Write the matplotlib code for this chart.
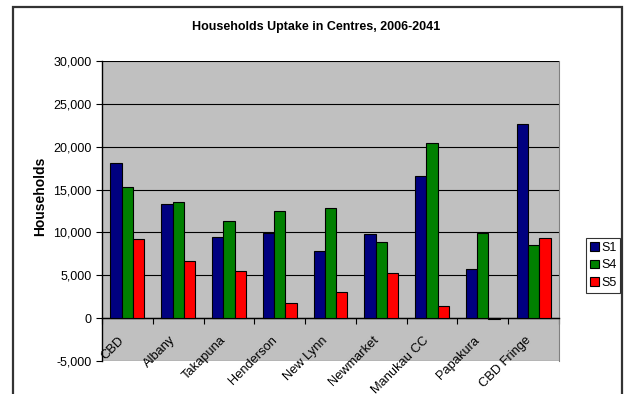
import matplotlib.pyplot as plt
import numpy as np
from matplotlib.patches import Rectangle
from matplotlib.ticker import FuncFormatter
import matplotlib.transforms as mtransforms

plt.rcParams['font.family'] = ['Liberation Sans', 'DejaVu Sans']

# datos
centres = ['CBD', 'Albany', 'Takapuna', 'Henderson', 'New Lynn', 'Newmarket',
           'Manukau CC', 'Papakura', 'CBD Fringe']
s1 = [18100, 13340, 9450, 9960, 7860, 9800, 16530, 5760, 22640]
s4 = [15330, 13580, 11280, 12530, 12840, 8830, 20420, 9960, 8560]
s5 = [9220, 6650, 5450, 1750, 3070, 5290, 1360, -100, 9300]
series = ['S1', 'S4', 'S5']
colores = ['#000080', '#008000', '#FF0000']

W, H = 626, 394
fig = plt.figure(figsize=(W / 100, H / 100), dpi=100)
ax = fig.add_axes([102 / W, 1 - 361 / H, (559 - 102) / W, (361 - 61) / H])

# marco exterior del grafico
fig.patches.append(Rectangle((13 / W, -0.1), (622 - 13) / W, 1 - 7 / H + 0.1,
                             transform=fig.transFigure, fill=False,
                             edgecolor='#333333', linewidth=1.6, zorder=0))

x = np.arange(len(centres))
ancho = 0.222
for i, (vals, nombre, c) in enumerate(zip([s1, s4, s5], series, colores)):
    ax.bar(x + (i - 1) * ancho, vals, ancho, color=c, edgecolor='black',
           linewidth=0.8, label=nombre, zorder=3)

ax.set_facecolor('#C0C0C0')
ax.set_xlim(-0.5, len(centres) - 0.5)
ax.set_ylim(-5000, 30000)
ax.set_yticks(np.arange(-5000, 30001, 5000))
ax.yaxis.set_major_formatter(FuncFormatter(lambda v, p: f'{int(v):,}'))
ax.grid(axis='y', color='black', linewidth=0.8, zorder=1)
ax.tick_params(axis='y', labelsize=9, length=4, direction='out', width=0.8)

for s in ['top', 'right']:
    ax.spines[s].set_color('#808080')
    ax.spines[s].set_linewidth(0.8)
ax.spines['top'].set_visible(False)
ax.spines['bottom'].set_position(('data', 0))
ax.spines['bottom'].set_linewidth(1.0)
ax.spines['left'].set_linewidth(1.0)

ax.set_xticks(np.arange(len(centres) + 1) - 0.5)
ax.set_xticklabels([])
ax.tick_params(axis='x', length=4, direction='out', width=0.8)

offset = mtransforms.ScaledTranslation(-9 / 100, -16 / 100, fig.dpi_scale_trans)
for xi, nombre in zip(x, centres):
    ax.text(xi, 0, nombre, rotation=45, ha='right', va='top', rotation_mode='anchor',
            fontsize=9.3, transform=ax.transData + offset, zorder=4)

fig.text(40 / W, 1 - 196 / H, 'Households', rotation=90, ha='center', va='center',
         fontsize=10, fontweight='bold')
fig.text(316 / W, 1 - 27 / H, 'Households Uptake in Centres, 2006-2041',
         ha='center', va='center', fontsize=9, fontweight='bold')

leg = fig.legend(loc='upper left', bbox_to_anchor=(586 / W, 1 - 238 / H),
                 fontsize=9, frameon=True, fancybox=False, edgecolor='black',
                 handlelength=0.7, handleheight=0.7, handletextpad=0.2,
                 borderpad=0.3, labelspacing=0.45, borderaxespad=0)
leg.get_frame().set_linewidth(0.8)

fig.savefig('out.png', dpi=100)
